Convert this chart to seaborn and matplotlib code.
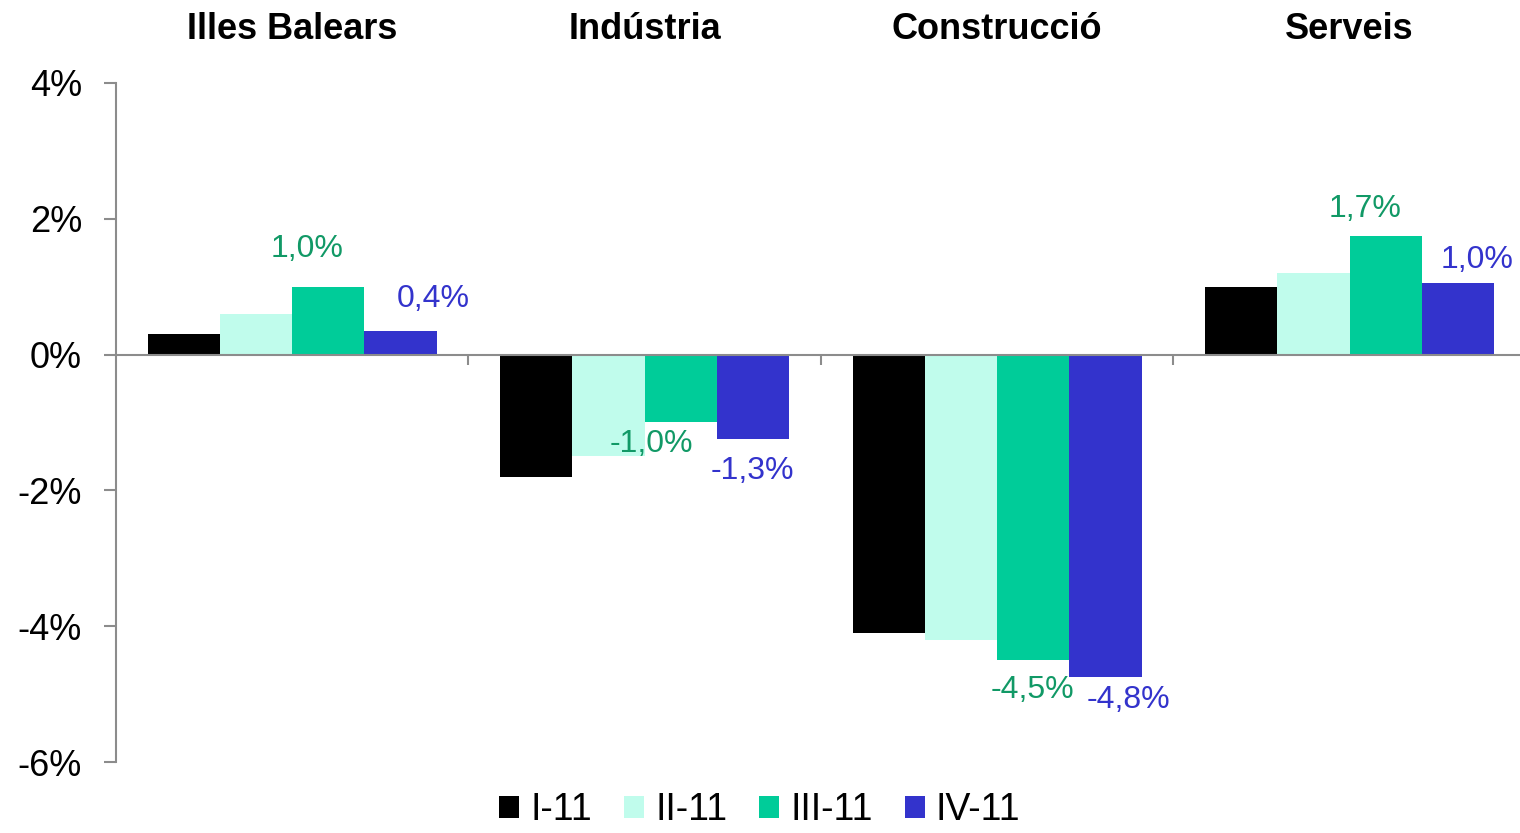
import pandas as pd
import seaborn as sns
import matplotlib.pyplot as plt
from matplotlib.patches import Patch

# Data: quarterly change (%) by sector
sectors = ['Illes Balears', 'Indústria', 'Construcció', 'Serveis']
quarters = ['I-11', 'II-11', 'III-11', 'IV-11']
q1 = [0.3, -1.8, -4.1, 1.0]
q2 = [0.6, -1.5, -4.2, 1.2]
q3 = [1.0, -1.0, -4.5, 1.75]
q4 = [0.35, -1.25, -4.75, 1.05]
labels_q3 = ['1,0%', '-1,0%', '-4,5%', '1,7%']
labels_q4 = ['0,4%', '-1,3%', '-4,8%', '1,0%']

colors = ['#000000', '#C0FCEC', '#00CC99', '#3333CC']
label_colors = {'III-11': '#119966', 'IV-11': '#3333CC'}

df = pd.DataFrame({
    'sector': sectors * 4,
    'quarter': [q for q in quarters for _ in sectors],
    'value': q1 + q2 + q3 + q4,
})

sns.set_style('white')
plt.rcParams['font.family'] = ['Liberation Sans', 'DejaVu Sans']
plt.rcParams['text.color'] = 'black'
plt.rcParams['ytick.labelcolor'] = 'black'

fig = plt.figure(figsize=(15.2, 8.33), dpi=100)
ax = fig.add_axes([0.0763, 0.0852, 0.9276, 0.8152])

sns.barplot(data=df, x='sector', y='value', hue='quarter', order=sectors,
            hue_order=quarters, palette=colors, width=0.82, saturation=1,
            edgecolor='none', linewidth=0, legend=False, ax=ax)

ax.set_ylim(-6, 4)
ax.set_xlim(-0.5, 3.5)
ax.set_yticks([-6, -4, -2, 0, 2, 4])
ax.set_yticklabels(['-6%', '-4%', '-2%', '0%', '2%', '4%'], fontsize=26, color='black')
ax.set_xticks([0.5, 1.5, 2.5])
ax.set_xticklabels([])
ax.set_xlabel('')
ax.set_ylabel('')

grey = '#8C8C8C'
for s in ['top', 'right']:
    ax.spines[s].set_visible(False)
ax.spines['left'].set_color(grey)
ax.spines['left'].set_linewidth(1.5)
ax.spines['bottom'].set_position(('data', 0))
ax.spines['bottom'].set_color(grey)
ax.spines['bottom'].set_linewidth(1.5)
ax.tick_params(axis='y', direction='out', length=8.5, width=1.5, color=grey, pad=16, left=True)
ax.tick_params(axis='x', direction='out', length=7, width=1.5, color=grey, bottom=True)

# sector titles above the plot
for i, s in enumerate(sectors):
    ax.annotate(s, xy=(i, 1), xycoords=('data', 'axes fraction'),
                xytext=(0, 53), textcoords='offset pixels',
                ha='center', va='center', fontsize=26, fontweight='bold',
                color='black')

# value labels for III-11 and IV-11 (pixel offsets from bar end)
q3_dx = [-21, -29, -1, -21]
q3_dy = [38, -22, -30, 27]
q4_dx = [33, -1, 23, 19]
q4_dy = [32, -32, -23, 23]
for container, quarter, vals, labs, dxs, dys in [
        (ax.containers[2], 'III-11', q3, labels_q3, q3_dx, q3_dy),
        (ax.containers[3], 'IV-11', q4, labels_q4, q4_dx, q4_dy)]:
    for bar, v, lab, dx, dy in zip(container, vals, labs, dxs, dys):
        xc = bar.get_x() + bar.get_width() / 2
        ax.annotate(lab, xy=(xc, v), xytext=(dx, dy), textcoords='offset pixels',
                    ha='center', va='center', fontsize=23,
                    color=label_colors[quarter])

handles = [Patch(facecolor=c, edgecolor='none') for c in colors]
fig.legend(handles, quarters, loc='lower center', bbox_to_anchor=(0.5, -0.035),
           ncol=4, frameon=False, fontsize=27, handlelength=0.53,
           handleheight=0.53, handletextpad=0.3, columnspacing=0.85)

fig.savefig('out.png', dpi=100)
